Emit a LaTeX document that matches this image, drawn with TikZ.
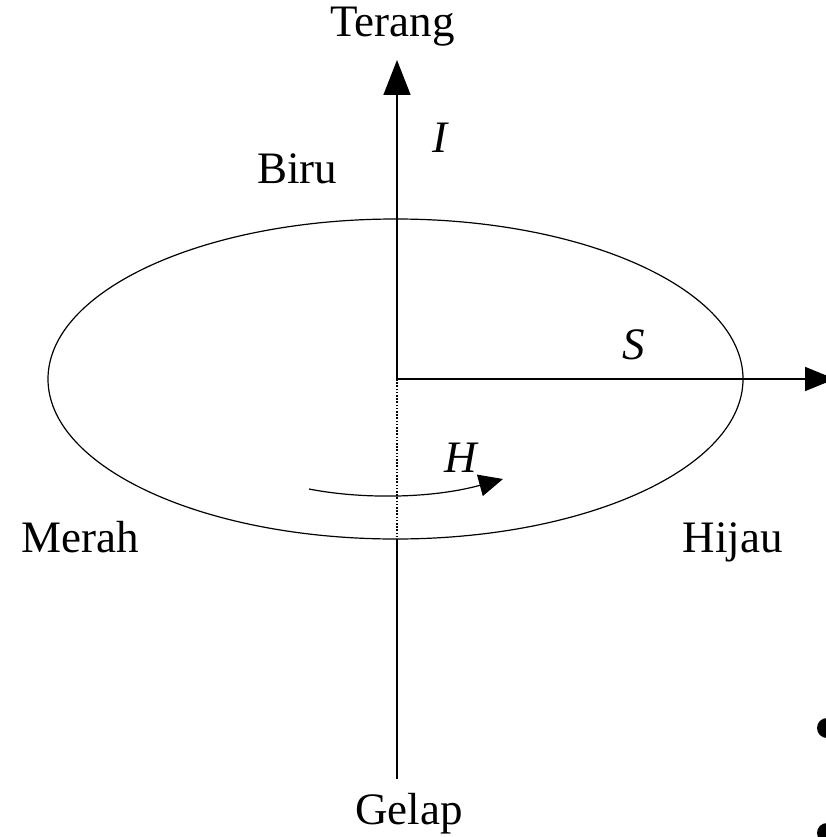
\documentclass[tikz,border=0pt]{standalone}
\usepackage{fontspec}
\setmainfont{Liberation Serif}
\usetikzlibrary{arrows.meta}
\tikzset{
  lbl/.style={anchor=base, inner sep=0pt, font=\fontsize{45}{54}\selectfont},
  ilbl/.style={lbl, font=\fontsize{45}{54}\selectfont\itshape},
  axis/.style={line width=1.6pt, black},
  bighead/.style={-{Triangle[length=35pt,width=27pt]}},
  midhead/.style={-{Triangle[length=30pt,width=24pt]}},
  smallhead/.style={-{Triangle[length=24pt,width=22pt]}},
}
\begin{document}
\begin{tikzpicture}[x=1pt,y=-1pt]
\useasboundingbox (0,0) rectangle (825,837);
% coordinates
\coordinate (O) at (397,379);
\coordinate (top) at (397,60);
\coordinate (ebot) at (397,539);
\coordinate (bot) at (397,779);
\coordinate (right) at (835,379);
% ellipse
\draw[line width=1.2pt] (395.5,379) ellipse [x radius=347.5, y radius=160];
% axes
\draw[axis, bighead] (O) -- (top);
\draw[axis, midhead] (O) -- (right);
\draw[line width=1.2pt, dash pattern=on 1.6pt off 1.6pt] (O) -- (ebot);
\draw[axis] (ebot) -- (bot);
% hue arrow
\coordinate (hs) at (309,489);
\coordinate (he) at (503,479);
\draw[line width=1.2pt, smallhead] (hs) .. controls (360,499) and (430,499) .. (he);
% labels
\node[lbl] (terang) at (392.5,37) {Terang};
\node[lbl] (gelap) at (409,824) {Gelap};
\node[lbl] (biru) at (297,183) {Biru};
\node[lbl] (merah) at (80.5,552) {Merah};
\node[lbl] (hijau) at (732.5,552) {Hijau};
\node[ilbl] (I) at (440,153) {I};
\node[ilbl] (S) at (634,359) {S};
\node[ilbl] (H) at (461,472) {H};
% bullets
\fill (827,728) circle (10);
\fill (827,833) circle (10);
\end{tikzpicture}
\end{document}
